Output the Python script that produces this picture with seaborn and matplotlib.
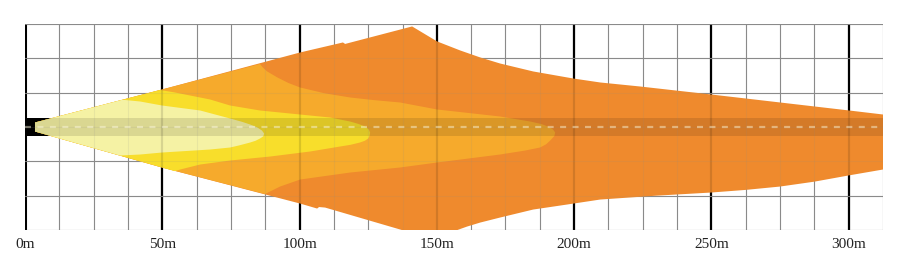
import numpy as np
import pandas as pd

import matplotlib
matplotlib.use('Agg')
import matplotlib.pyplot as plt
import seaborn as sns

# beam zones, distance (m) vs lateral offset (m)
orange_top_x = [3.64, 49.9, 100.2, 115.8, 116.6, 141.0, 150.1, 158.5, 165.8, 173.0, 185.1, 199.6, 209.5, 224.0, 249.9, 275.0, 300.2, 312.5]
orange_top_y = [1.64, 13.66, 27.14, 30.78, 30.24, 36.61, 31.15, 27.87, 25.32, 23.13, 20.22, 17.67, 16.21, 14.75, 11.84, 8.93, 6.01, 4.55]
orange_bot_x = [3.64, 49.9, 100.2, 106.4, 107.1, 109.3, 139.2, 155.9, 161.0, 165.8, 173.0, 185.1, 197.4, 209.5, 230.0, 249.9, 262.5, 275.0, 287.5, 300.2, 312.5]
orange_bot_y = [-1.64, -14.75, -27.87, -29.69, -29.14, -29.33, -38.07, -38.07, -36.25, -34.79, -32.97, -30.05, -28.23, -26.41, -25.0, -23.86, -22.9, -21.68, -19.9, -17.6, -15.48]

lorange_top_x = [3.64, 49.9, 85.6, 86.5, 88.2, 92.0, 96.0, 100.2, 109.0, 118.4, 127.0, 136.6, 150.1, 173.0, 184.0, 188.0, 190.5, 192.3, 193.1]
lorange_top_y = [1.64, 13.66, 22.95, 21.8, 20.22, 18.0, 16.0, 14.39, 12.3, 10.75, 9.8, 8.93, 6.38, 3.83, 2.00, 1.1, 0.18, -0.9, -2.0]
lorange_bot_x = [3.64, 49.9, 87.4, 92.9, 100.2, 118.4, 136.6, 150.1, 173.0, 182.0, 187.6, 189.8, 191.3, 192.8, 193.1]
lorange_bot_y = [-1.64, -14.75, -24.4, -21.68, -19.13, -16.58, -14.75, -12.93, -10.02, -8.6, -7.47, -6.3, -4.92, -3.3, -2.0]

yellow_top_x = [3.64, 35.3, 49.2, 54.6, 67.4, 74.7, 85.6, 100.2, 111.1, 118.4, 121.5, 123.9, 125.2, 125.7]
yellow_top_y = [1.64, 9.87, 13.48, 12.57, 10.02, 7.83, 6.01, 4.55, 3.46, 2.00, 1.1, 0.18, -0.9, -2.00]
yellow_bot_x = [3.64, 54.6, 56.5, 63.8, 74.7, 89.3, 103.8, 114.8, 118.5, 122.0, 123.8, 125.0, 125.5, 125.7]
yellow_bot_y = [-1.64, -16.07, -15.48, -13.66, -12.20, -10.75, -8.93, -7.10, -6.5, -5.65, -5.0, -4.19, -3.2, -2.00]

pale_top_x = [3.64, 35.5, 41.9, 49.9, 63.8, 74.7, 79.0, 82.0, 84.5, 86.3, 87.1]
pale_top_y = [1.64, 9.92, 9.29, 7.83, 6.01, 3.10, 1.9, 0.91, -0.1, -1.28, -2.37]
pale_bot_x = [3.64, 34.6, 41.9, 49.9, 67.4, 74.7, 78.0, 82.0, 84.0, 85.6, 86.8, 87.1]
pale_bot_y = [-1.64, -10.38, -10.02, -9.29, -8.20, -7.47, -6.7, -5.65, -5.0, -4.19, -3.4, -2.37]

tick_pos = [0, 50, 100, 150, 200, 250, 300]
tick_labels = ['0m', '50m', '100m', '150m', '200m', '250m', '300m']

x_max = 312.5
y_half = 37.5
cell = 12.5

sns.set_style("white")
plt.rcParams['font.family'] = ['Liberation Serif', 'DejaVu Serif']

fig = plt.figure(figsize=(9.07, 2.70), dpi=100)
ax = fig.add_axes([25 / 907, 40 / 270, 858 / 907, 206 / 270])


def draw_grid(alpha, z):
    for xv in np.arange(0, x_max + 0.1, cell):
        if xv % 50 == 0:
            ax.axvline(xv, color='black', lw=1.6 if xv > 0 else 2.2, alpha=alpha, zorder=z)
        else:
            ax.axvline(xv, color='#8a8a8a', lw=0.8, alpha=alpha, zorder=z)
    for yv in np.arange(-y_half, y_half + 0.1, cell):
        ax.axhline(yv, color='#8a8a8a', lw=0.8, alpha=alpha, zorder=z)


draw_grid(1.0, 0)

# black housing block at the lamp
ax.fill([0, 11, 11, 0], [3.2, 3.2, -3.2, -3.2], color='black', lw=0, zorder=1)

zones = [
    (orange_top_x, orange_top_y, orange_bot_x, orange_bot_y, '#EF8A2D'),
    (lorange_top_x, lorange_top_y, lorange_bot_x, lorange_bot_y, '#F6AA2C'),
    (yellow_top_x, yellow_top_y, yellow_bot_x, yellow_bot_y, '#F8DE2B'),
    (pale_top_x, pale_top_y, pale_bot_x, pale_bot_y, '#F5F2A4'),
]
for i, (tx, ty, bx, by, col) in enumerate(zones):
    px = list(tx) + list(bx[::-1])
    py = list(ty) + list(by[::-1])
    ax.fill(px, py, color=col, lw=0, zorder=2 + i * 0.1)

# darker centre band
ax.fill([3.64, x_max, x_max, 3.64], [3.1, 3.1, -3.1, -3.1], color='black', alpha=0.11, lw=0, zorder=3)

draw_grid(0.12, 3.5)

# dashed centre line
centre = pd.DataFrame({'x': [0, x_max], 'y': [0, 0]})
sns.lineplot(data=centre, x='x', y='y', ax=ax, color='#fffbe0', alpha=0.45,
             lw=1.6, linestyle=(0, (2.7, 2.9)), zorder=4)

ax.set_xlim(0, x_max)
ax.set_ylim(-y_half, y_half)
ax.set_xticks(tick_pos)
ax.set_xticklabels(tick_labels)
ax.set_yticks([])
ax.tick_params(axis='x', length=0, pad=6, labelsize=11, labelcolor='#222222')
ax.set_xlabel('')
ax.set_ylabel('')
for s in ax.spines.values():
    s.set_visible(False)

plt.savefig('out.png', dpi=100)
plt.close()
